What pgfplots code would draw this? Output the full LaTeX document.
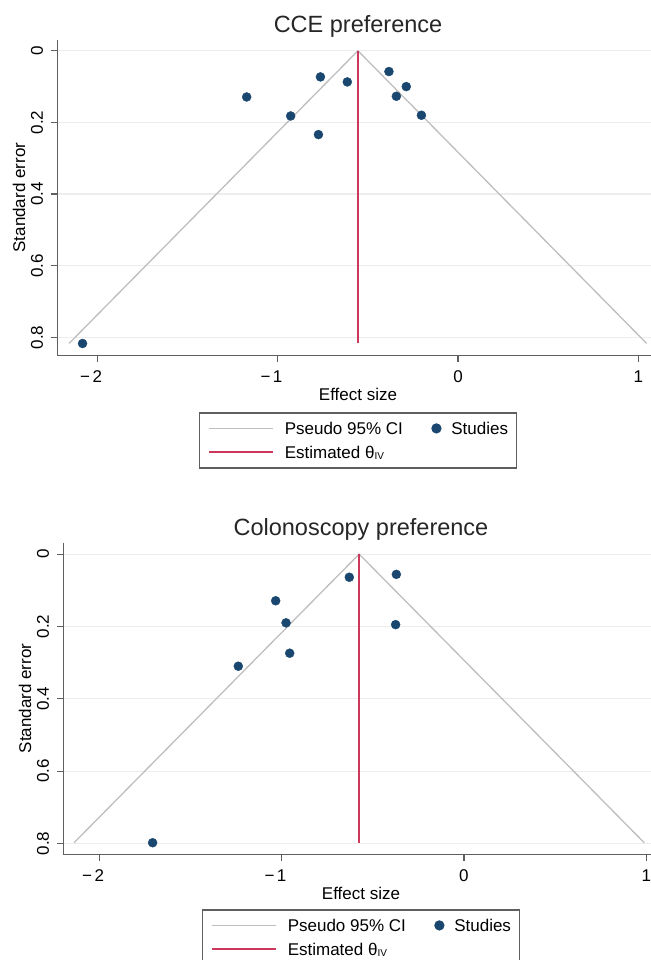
\documentclass[border=0pt]{standalone}
\usepackage{fontspec}
\setmainfont{Liberation Sans}
\usepackage{pgfplots}
\pgfplotsset{compat=1.18}

\definecolor{navy}{RGB}{26,71,111}
\definecolor{estred}{RGB}{205,55,90}
\definecolor{cigray}{RGB}{190,190,190}
\definecolor{axgray}{RGB}{95,95,95}
\newcommand\lab{\fontsize{17bp}{20bp}\selectfont}
\newcommand\ttl{\fontsize{23.5bp}{27bp}\selectfont}
\newcommand\iv{\raisebox{-1bp}{\fontsize{10bp}{10bp}\selectfont IV}}

\pgfplotsset{
  funnel/.style={
    scale only axis, anchor=center, y dir=reverse,
    axis x line*=bottom, axis y line*=left,
    axis line style={axgray, line width=1.2bp},
    tick align=outside, major tick length=6.5bp,
    every tick/.style={axgray, line width=1.2bp},
    xtick={-2,-1,0,1},
    xticklabels={\llap{−\kern2.5bp}2,\llap{−\kern2.5bp}1,0,1},
    ytick={0,0.2,0.4,0.6,0.8},
    yticklabels={0,0.2,0.4,0.6,0.8},
    ymajorgrids, grid style={black!7, line width=1.2bp},
    ticklabel style={font=\lab, text=black},
    yticklabel style={xshift=-7.5bp, rotate=90, anchor=south, inner sep=0pt},
    xticklabel style={anchor=base, inner sep=0pt, yshift=-20.7bp},
    every axis title/.style={font=\ttl, text=black!85,
      at={(axis description cs:0.5065,1)}, anchor=base, yshift=7.7bp, inner sep=0pt},
    xlabel style={font=\lab, at={(axis description cs:0.5065,0)},
      anchor=base, yshift=-44.7bp, inner sep=0pt},
    ylabel style={font=\lab, at={([xshift=-32.3bp]axis description cs:0,0.5)},
      anchor=base, inner sep=0pt},
    xlabel={Effect size}, ylabel={Standard error},
    legend columns=2, legend cell align=left,
    legend style={
      at={(axis description cs:0.5065,0)}, anchor=north, yshift=-57bp,
      draw=axgray, line width=1.2bp,
      inner xsep=8.3bp, inner ysep=4bp,
      column sep=10.4bp, row sep=1bp,
      /tikz/every even column/.append style={column sep=29bp},
      nodes={inner sep=0pt, text height=18bp, text depth=5bp, font=\lab},
    },
  },
  ci/.style={cigray, line width=1.3bp,
    legend image code/.code={\draw[##1] (0bp,0bp) -- (64.4bp,0bp);}},
  studies/.style={only marks, mark=*, mark size=4.5bp,
    mark options={draw=navy, fill=navy},
    legend image code/.code={\draw[##1] plot coordinates {(0bp,0bp)};}},
  est/.style={estred, line width=2bp,
    legend image code/.code={\draw[##1] (0bp,0bp) -- (64.4bp,0bp);}},
}

\begin{document}
\begin{tikzpicture}
\path[use as bounding box] (0,0) rectangle (651bp,-960bp);

% CCE preference
\begin{axis}[funnel, at={(354.15bp,-197.65bp)},
    width=593.7bp, height=315.3bp,
    xmin=-2.222, xmax=1.070, ymin=-0.03, ymax=0.85,
    title={CCE preference}]
  \addplot[ci] coordinates {(-2.157,0.817) (-0.555,0) (1.046,0.817)};
  \addlegendentry{Pseudo 95\% CI}
  \addplot[studies] coordinates {
    (-1.172,0.129) (-0.928,0.182) (-0.763,0.073) (-0.774,0.234)
    (-0.614,0.087) (-0.383,0.058) (-0.287,0.100) (-0.342,0.127)
    (-0.203,0.180) (-2.082,0.817)};
  \addlegendentry{Studies}
  \addplot[est] coordinates {(-0.555,0) (-0.555,0.817)};
  \addlegendentry{Estimated θ\iv}
\end{axis}

% Colonoscopy preference
\begin{axis}[funnel, at={(357.15bp,-698.5bp)},
    width=587.7bp, height=311.6bp,
    xmin=-2.198, xmax=1.026, ymin=-0.0315, ymax=0.830,
    title={Colonoscopy preference},
    legend style={yshift=2bp}]
  \addplot[ci] coordinates {(-2.139,0.798) (-0.575,0) (0.989,0.798)};
  \addlegendentry{Pseudo 95\% CI}
  \addplot[studies] coordinates {
    (-0.629,0.064) (-0.371,0.056) (-1.033,0.129) (-0.976,0.190)
    (-0.375,0.195) (-0.956,0.274) (-1.238,0.310) (-1.708,0.798)};
  \addlegendentry{Studies}
  \addplot[est] coordinates {(-0.574,0) (-0.574,0.798)};
  \addlegendentry{Estimated θ\iv}
\end{axis}
\end{tikzpicture}
\end{document}
